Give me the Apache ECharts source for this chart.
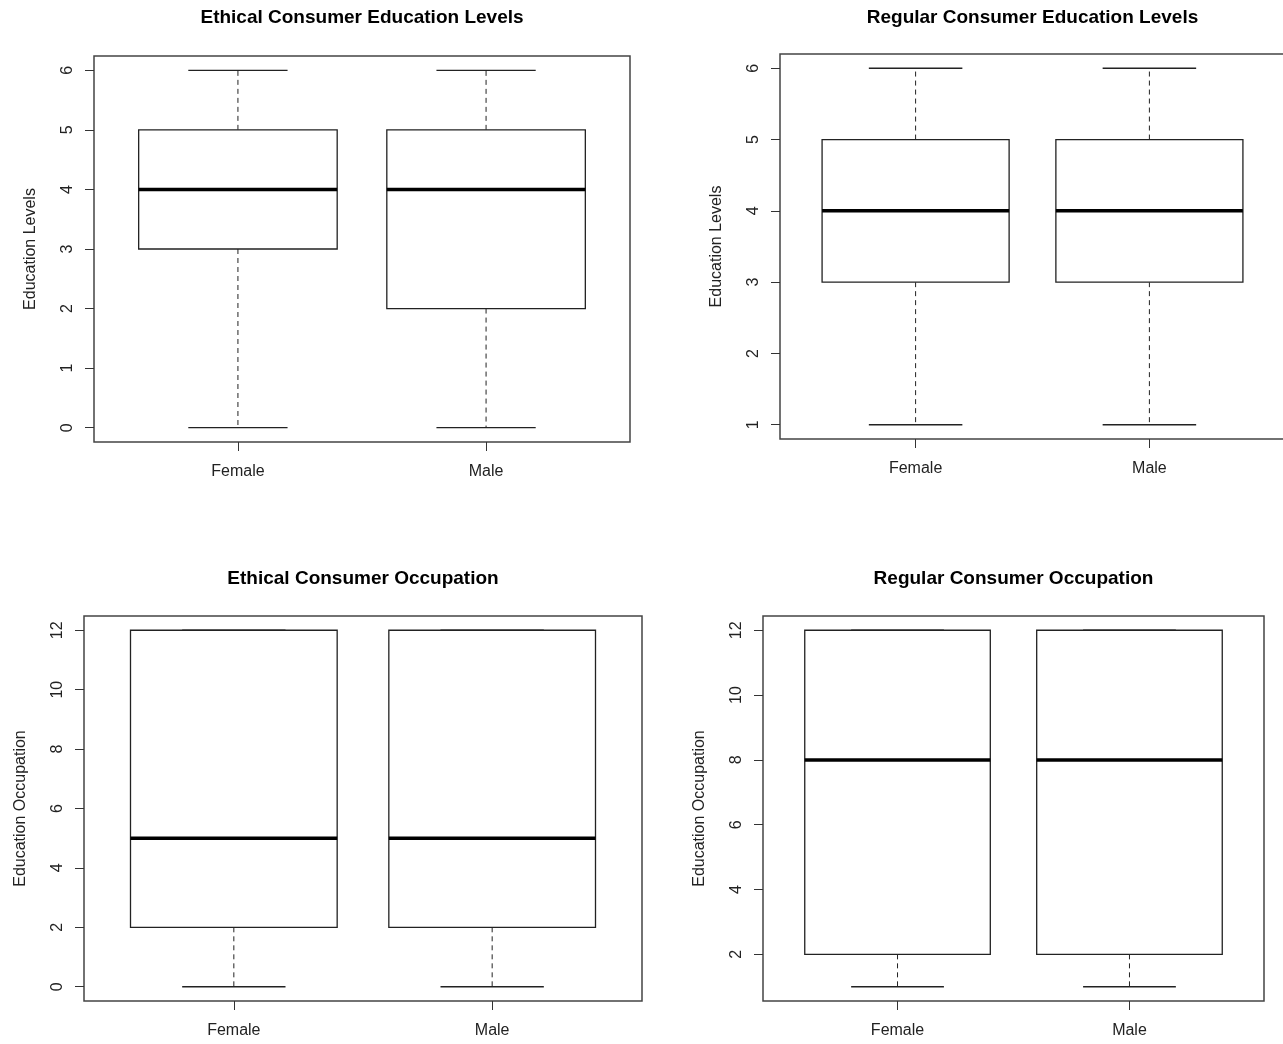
<!DOCTYPE html>
<html>
<head>
<meta charset="utf-8">
<script src="https://cdn.jsdelivr.net/npm/echarts@6/dist/echarts.min.js"></script>
<style>
  html, body { margin: 0; padding: 0; background: #fff; overflow: hidden; }
  #chart { width: 1300px; height: 1044px; }
</style>
</head>
<body>
<div id="chart"></div>
<script>
// ---- Data (min, Q1, median, Q3, max) per category ----
const categories = ['Female', 'Male'];

const ethicalEducationFemale = [0, 3, 4, 5, 6];
const ethicalEducationMale   = [0, 2, 4, 5, 6];

const regularEducationFemale = [1, 3, 4, 5, 6];
const regularEducationMale   = [1, 3, 4, 5, 6];

const ethicalOccupationFemale = [0, 2, 5, 12, 12];
const ethicalOccupationMale   = [0, 2, 5, 12, 12];

const regularOccupationFemale = [1, 2, 8, 12, 12];
const regularOccupationMale   = [1, 2, 8, 12, 12];

// ---- Tick labels ----
const ethicalEducationTicks  = [0, 1, 2, 3, 4, 5, 6];
const regularEducationTicks  = [1, 2, 3, 4, 5, 6];
const ethicalOccupationTicks = [0, 2, 4, 6, 8, 10, 12];
const regularOccupationTicks = [2, 4, 6, 8, 10, 12];

const categoryPositions = [1, 2];

// ---- Panels ----
const panels = [
  { title: 'Ethical Consumer Education Levels', yName: 'Education Levels',
    data: [ethicalEducationFemale, ethicalEducationMale], ticks: ethicalEducationTicks,
    grid: { left: 94, top: 56, width: 536, height: 386 } },
  { title: 'Regular Consumer Education Levels', yName: 'Education Levels',
    data: [regularEducationFemale, regularEducationMale], ticks: regularEducationTicks,
    grid: { left: 780, top: 54, width: 505, height: 385 } },
  { title: 'Ethical Consumer Occupation', yName: 'Education Occupation',
    data: [ethicalOccupationFemale, ethicalOccupationMale], ticks: ethicalOccupationTicks,
    grid: { left: 84, top: 616, width: 558, height: 385 } },
  { title: 'Regular Consumer Occupation', yName: 'Education Occupation',
    data: [regularOccupationFemale, regularOccupationMale], ticks: regularOccupationTicks,
    grid: { left: 763, top: 616, width: 501, height: 385 } }
];

const FONT = '"Liberation Sans", Arial, sans-serif';
const LINE = '#222';

function yRange(values) {
  let lo = Infinity, hi = -Infinity;
  values.forEach(a => a.forEach(v => { lo = Math.min(lo, v); hi = Math.max(hi, v); }));
  const pad = (hi - lo) * 0.04;
  return [lo - pad, hi + pad];
}

function renderBox(params, api) {
  const x = api.value(0);
  const vMin = api.value(1), vQ1 = api.value(2), vMed = api.value(3), vQ3 = api.value(4), vMax = api.value(5);
  const halfBox = api.size([0.4, 0])[0];
  const halfCap = api.size([0.2, 0])[0];
  const pMin = api.coord([x, vMin]);
  const pQ1 = api.coord([x, vQ1]);
  const pMed = api.coord([x, vMed]);
  const pQ3 = api.coord([x, vQ3]);
  const pMax = api.coord([x, vMax]);
  const cx = pMed[0];
  const dashStyle = { stroke: LINE, lineWidth: 1, lineDash: [5, 4] };
  const solid = { stroke: LINE, lineWidth: 1.3 };
  return {
    type: 'group',
    children: [
      { type: 'line', shape: { x1: cx, y1: pQ3[1], x2: cx, y2: pMax[1] }, style: dashStyle },
      { type: 'line', shape: { x1: cx, y1: pQ1[1], x2: cx, y2: pMin[1] }, style: dashStyle },
      { type: 'line', shape: { x1: cx - halfCap, y1: pMax[1], x2: cx + halfCap, y2: pMax[1] }, style: solid },
      { type: 'line', shape: { x1: cx - halfCap, y1: pMin[1], x2: cx + halfCap, y2: pMin[1] }, style: solid },
      { type: 'rect', shape: { x: cx - halfBox, y: pQ3[1], width: halfBox * 2, height: pQ1[1] - pQ3[1] },
        style: { fill: '#fff', stroke: LINE, lineWidth: 1.3 } },
      { type: 'line', shape: { x1: cx - halfBox, y1: pMed[1], x2: cx + halfBox, y2: pMed[1] },
        style: { stroke: '#000', lineWidth: 3.5 } }
    ]
  };
}

const option = {
  backgroundColor: '#fff',
  animation: false,
  title: [],
  grid: [],
  xAxis: [],
  yAxis: [],
  series: []
};

panels.forEach((p, i) => {
  const g = p.grid;
  option.title.push({
    text: p.title,
    left: g.left + g.width / 2,
    top: i < 2 ? 8 : 569,
    textAlign: 'center',
    padding: 0,
    textStyle: { fontFamily: FONT, fontWeight: 'bold', fontSize: 19, color: '#000' }
  });
  option.grid.push({
    left: g.left, top: g.top, width: g.width, height: g.height,
    show: true, borderColor: '#444', borderWidth: 1.5, backgroundColor: 'transparent',
    containLabel: false
  });
  option.xAxis.push({
    type: 'value', gridIndex: i, min: 0.42, max: 2.58,
    splitLine: { show: false },
    axisLine: { show: false, onZero: false },
    axisTick: { show: true, customValues: categoryPositions, length: 9, lineStyle: { color: '#333', width: 1 } },
    axisLabel: {
      show: true, customValues: categoryPositions, margin: 22,
      formatter: v => categories[Math.round(v) - 1] || '',
      fontFamily: FONT, fontSize: 16, color: '#222'
    }
  });
  const r = yRange(p.data);
  option.yAxis.push({
    type: 'value', gridIndex: i, min: r[0], max: r[1],
    splitLine: { show: false },
    axisLine: { show: false, onZero: false },
    axisTick: { show: true, customValues: p.ticks, length: 9, lineStyle: { color: '#333', width: 1 } },
    axisLabel: {
      show: true, customValues: p.ticks, rotate: 90, margin: 18,
      fontFamily: FONT, fontSize: 16, color: '#222'
    },
    name: p.yName, nameLocation: 'middle', nameGap: 55, nameRotate: 90,
    nameTextStyle: { fontFamily: FONT, fontSize: 16, color: '#222' }
  });
  option.series.push({
    type: 'custom',
    xAxisIndex: i, yAxisIndex: i,
    clip: false,
    renderItem: renderBox,
    encode: { x: 0, y: [1, 2, 3, 4, 5] },
    data: p.data.map((d, k) => [categoryPositions[k]].concat(d))
  });
});

const chart = echarts.init(document.getElementById('chart'), null, { renderer: 'canvas' });
chart.setOption(option);
</script>
</body>
</html>
